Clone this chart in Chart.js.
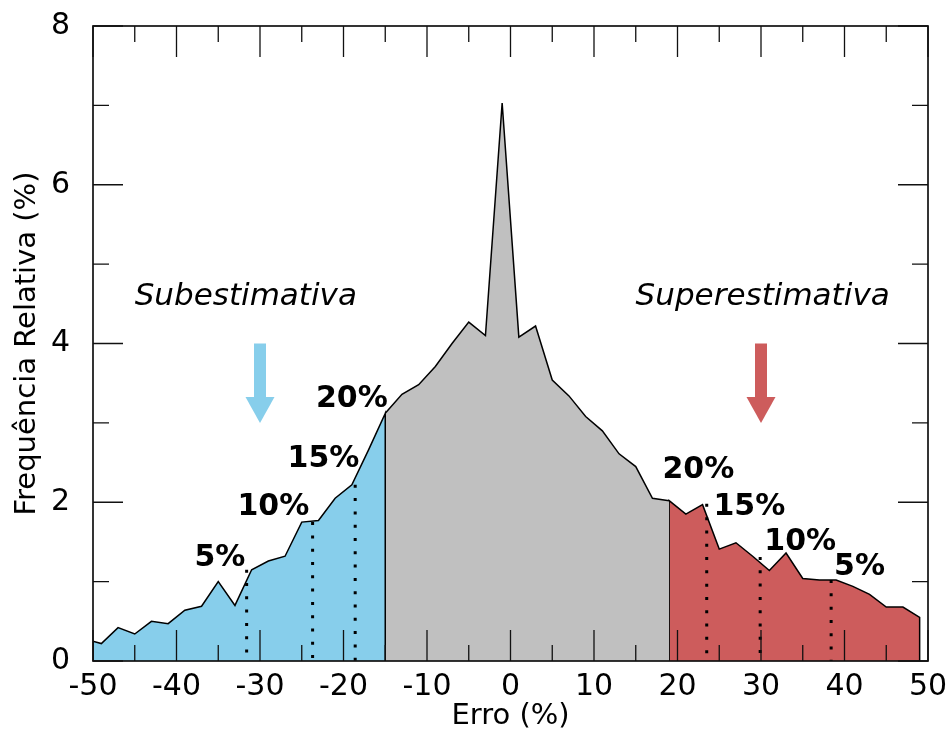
<!DOCTYPE html>
<html>
<head>
<meta charset="utf-8">
<script src="https://cdn.jsdelivr.net/npm/chart.js@4.4.0/dist/chart.umd.min.js"></script>
<style>
    body { margin: 0; background: #fff; }
    canvas { display: block; }
</style>
</head>
<body>
<canvas id="grafico" width="951" height="731"></canvas>
<script>
// Distribuição do erro (%) -> frequência relativa (%)
var erro = [-50, -49, -47, -45, -43, -41, -39, -37, -35, -33, -31, -29, -27, -25, -23, -21, -19, -17,
    -15, -13, -11, -9, -7, -5, -3, -1, 1, 3, 5, 7, 9, 11, 13, 15, 17,
    19, 21, 23, 25, 27, 29, 31, 33, 35, 37, 39, 41, 43, 45, 47, 49];
var freq = [0.25, 0.22, 0.42, 0.34, 0.50, 0.47, 0.64, 0.69, 1.00, 0.70, 1.15, 1.26, 1.32, 1.75, 1.77, 2.05, 2.22, 2.66,
    3.12, 3.36, 3.48, 3.71, 4.00, 4.27, 4.10, 7.03, 4.08, 4.22, 3.54, 3.34, 3.08, 2.90, 2.61, 2.45, 2.05,
    2.02, 1.85, 1.97, 1.41, 1.49, 1.32, 1.14, 1.36, 1.04, 1.02, 1.02, 0.94, 0.84, 0.68, 0.68, 0.55];

// limites da faixa central (20% de cada lado)
var limInf = -15;
var limSup = 19;

// percentis nas caudas: 5%, 10%, 15%
var pctNomes = ['5%', '10%', '15%', '20%'];
var pctSub = [-31.6, -23.7, -18.6];
var pctSubAlt = [1.15, 1.75, 2.22];
var pctSup = [38.4, 29.9, 23.5];
var pctSupAlt = [1.02, 1.31, 1.98];

var ticksX = [-50, -40, -30, -20, -10, 0, 10, 20, 30, 40, 50];
var ticksY = [0, 2, 4, 6, 8];

var AZUL = '#87ceeb';
var CINZA = '#c0c0c0';
var VERMELHO = '#cd5c5c';
var FONTE = "'DejaVu Sans', sans-serif";

// posição dos textos (coordenadas dos eixos)
var posPct = {
    sub: [[-34.8, 1.34], [-28.4, 1.98], [-22.4, 2.58], [-19.0, 3.34]],
    sup: [[41.8, 1.22], [34.7, 1.53], [28.6, 1.98], [22.5, 2.44]]
};
var posTitulos = [['Subestimativa', -31.7, 4.49], ['Superestimativa', 30.2, 4.49]];
var posSetas = [[-30, AZUL], [30, VERMELHO]];

function faixa(a, b) {
    var pts = [];
    for (var i = 0; i < erro.length; i++) {
        if (erro[i] >= a && erro[i] <= b) pts.push({x: erro[i], y: freq[i]});
    }
    return pts;
}

function pontilhado(x, alt) {
    return {
        data: [{x: x, y: alt}, {x: x, y: 0}],
        borderColor: '#000',
        borderWidth: 3,
        borderDash: [3, 10.3],
        borderCapStyle: 'butt',
        pointRadius: 0,
        fill: false,
        order: 0
    };
}

function area(pts, cor) {
    return {
        data: pts,
        borderColor: '#000',
        borderWidth: 1.5,
        backgroundColor: cor,
        fill: 'origin',
        pointRadius: 0,
        tension: 0,
        order: 1
    };
}

var datasets = [
    area([{x: erro[0], y: 0}].concat(faixa(erro[0], limInf), [{x: limInf, y: 0}]), AZUL),
    area(faixa(limInf, limSup), CINZA),
    area([{x: limSup, y: 0}].concat(faixa(limSup, 50), [{x: erro[erro.length - 1], y: 0}]), VERMELHO)
];
pctSub.forEach(function (x, i) { datasets.push(pontilhado(x, pctSubAlt[i])); });
pctSup.forEach(function (x, i) { datasets.push(pontilhado(x, pctSupAlt[i])); });

// sem folga extra dos rótulos: a área do gráfico fica presa ao layout.padding
function semFolga(s) {
    s.paddingTop = 0;
    s.paddingBottom = 0;
    s.paddingLeft = 0;
    s.paddingRight = 0;
}

// moldura com marcas para dentro, textos e setas
var moldura = {
    id: 'moldura',
    afterDatasetsDraw: function (chart) {
        var ctx = chart.ctx;
        var a = chart.chartArea;
        var sx = chart.scales.x, sy = chart.scales.y;
        ctx.save();

        ctx.strokeStyle = '#111';
        ctx.lineWidth = 1.3;
        ctx.beginPath();
        for (var v = -50; v <= 50; v += 5) {
            var px = sx.getPixelForValue(v);
            var len = (v % 10 === 0) ? 31 : 16;
            ctx.moveTo(px, a.bottom); ctx.lineTo(px, a.bottom - len);
            ctx.moveTo(px, a.top); ctx.lineTo(px, a.top + len);
        }
        for (var w = 0; w <= 8; w += 1) {
            var py = sy.getPixelForValue(w);
            var l2 = (w % 2 === 0) ? 30 : 16;
            ctx.moveTo(a.left, py); ctx.lineTo(a.left + l2, py);
            ctx.moveTo(a.right, py); ctx.lineTo(a.right - l2, py);
        }
        ctx.stroke();

        ctx.lineWidth = 1.7;
        ctx.strokeRect(a.left, a.top, a.right - a.left, a.bottom - a.top);

        // setas
        posSetas.forEach(function (s) {
            var cx = sx.getPixelForValue(s[0]);
            var y1 = sy.getPixelForValue(4);
            var y2 = sy.getPixelForValue(3);
            ctx.fillStyle = s[1];
            ctx.fillRect(cx - 6, y1, 12, y2 - y1 - 24);
            ctx.beginPath();
            ctx.moveTo(cx - 14.5, y2 - 26);
            ctx.lineTo(cx + 14.5, y2 - 26);
            ctx.lineTo(cx, y2);
            ctx.closePath();
            ctx.fill();
        });

        ctx.fillStyle = '#000';
        ctx.textAlign = 'center';
        ctx.textBaseline = 'alphabetic';

        ctx.font = 'italic 31px ' + FONTE;
        posTitulos.forEach(function (t) {
            ctx.fillText(t[0], sx.getPixelForValue(t[1]), sy.getPixelForValue(t[2]));
        });

        ctx.font = 'bold 30px ' + FONTE;
        ['sub', 'sup'].forEach(function (lado) {
            posPct[lado].forEach(function (p, i) {
                var y = sy.getPixelForValue(p[1]) + 0.3645 * 30;
                ctx.fillText(pctNomes[i], sx.getPixelForValue(p[0]), y);
            });
        });
        ctx.restore();
    }
};

var grafico = new Chart(document.getElementById('grafico'), {
    type: 'line',
    data: {datasets: datasets},
    options: {
        responsive: false,
        animation: false,
        events: [],
        layout: {padding: {top: 26, right: 23, left: 0, bottom: 0}},
        plugins: {legend: {display: false}, tooltip: {enabled: false}},
        scales: {
            x: {
                type: 'linear',
                min: -50, max: 50,
                grid: {display: false},
                border: {display: false},
                afterBuildTicks: function (s) { s.ticks = ticksX.map(function (v) { return {value: v}; }); },
                afterFit: function (s) { s.height = 70; semFolga(s); },
                ticks: {color: '#000', padding: 0, maxRotation: 0, font: {family: FONTE, size: 30}},
                title: {display: true, text: 'Erro (%)', color: '#000', padding: 0, font: {family: FONTE, size: 29, lineHeight: 1}}
            },
            y: {
                min: 0, max: 8,
                grid: {display: false},
                border: {display: false},
                afterBuildTicks: function (s) { s.ticks = ticksY.map(function (v) { return {value: v}; }); },
                afterFit: function (s) { s.width = 93; semFolga(s); },
                ticks: {color: '#000', padding: 15, font: {family: FONTE, size: 30}},
                title: {display: true, text: 'Frequência Relativa (%)', color: '#000', padding: {top: 10, bottom: 0}, font: {family: FONTE, size: 29}}
            }
        }
    },
    plugins: [moldura]
});
</script>
</body>
</html>
